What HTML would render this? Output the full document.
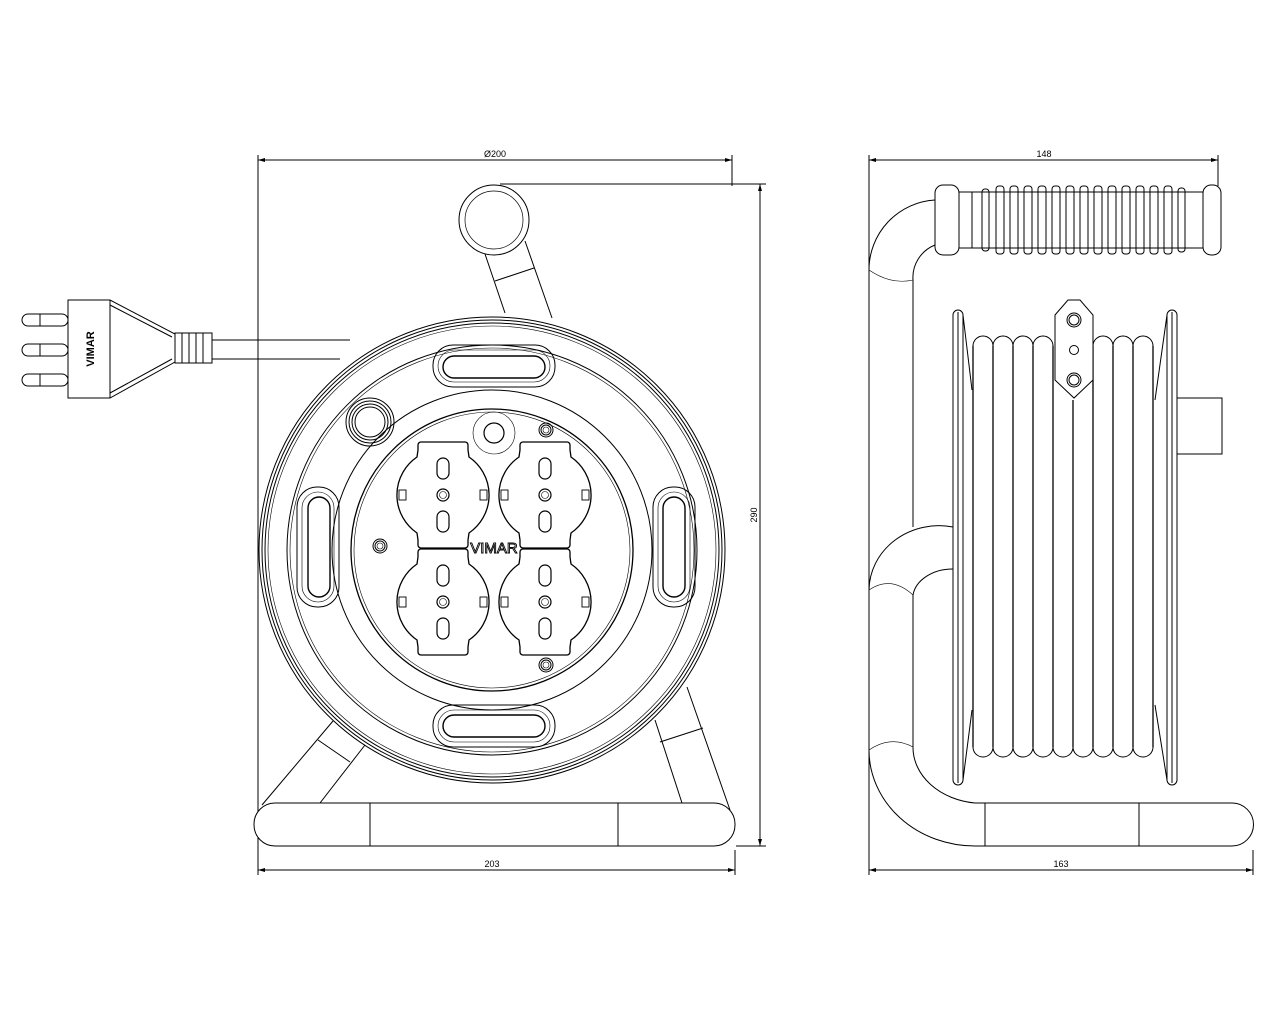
<!DOCTYPE html>
<html><head><meta charset="utf-8"><style>
html,body{margin:0;padding:0;background:#fff}
svg{display:block}
text{font-family:"Liberation Sans",sans-serif;font-size:9px;fill:#000}
</style></head><body>
<svg width="1280" height="1024" viewBox="0 0 1280 1024" xmlns="http://www.w3.org/2000/svg">
<defs>
<g id="sock">
 <path d="M-22,-53 H22 a3,3 0 0 1 3,3 V-45 L26,-38 A46,46 0 0 1 26,38 L25,45 V50 a3,3 0 0 1 -3,3 H-22 a3,3 0 0 1 -3,-3 V45 L-26,38 A46,46 0 0 1 -26,-38 L-25,-45 V-50 a3,3 0 0 1 3,-3Z" fill="#fff" stroke="#000" stroke-width="1.3"/>
 <rect x="-6" y="-37" width="12" height="21" rx="6" fill="none" stroke="#000" stroke-width="1.2"/>
 <rect x="-6" y="16" width="12" height="21" rx="6" fill="none" stroke="#000" stroke-width="1.2"/>
 <circle r="6" fill="none" stroke="#000" stroke-width="1.2"/><circle r="3.5" fill="none" stroke="#000" stroke-width=".6"/>
 <rect x="-44" y="-5" width="7" height="10" fill="none" stroke="#000" stroke-width=".9"/>
 <rect x="37" y="-5" width="7" height="10" fill="none" stroke="#000" stroke-width=".9"/>
</g>
<g id="screw"><circle r="7" fill="none" stroke="#000"/><circle r="5" fill="none" stroke="#000"/><circle r="3" fill="none" stroke="#000" stroke-width=".6"/></g>
</defs>
<g fill="none" stroke="#000" stroke-width="1">
<line x1="258" y1="155" x2="258" y2="875"/>
<line x1="732" y1="155" x2="732" y2="186"/>
<line x1="258" y1="160" x2="732" y2="160"/>
<line x1="500" y1="184" x2="766" y2="184"/>
<line x1="736" y1="846" x2="766" y2="846"/>
<line x1="760" y1="184" x2="760" y2="846"/>
<line x1="735" y1="850" x2="735" y2="875"/>
<line x1="258" y1="870" x2="735" y2="870"/>
<path d="M68,300 L110,300 L175,334 L175,362 L110,398 L68,398 Z"/>
<line x1="110" y1="300" x2="110" y2="398"/>
<path d="M110,305 L172,337 M110,393 L172,359"/>
<rect x="22" y="314" width="46" height="12" rx="6"/>
<rect x="22" y="344" width="46" height="12" rx="6"/>
<rect x="22" y="374" width="46" height="12" rx="6"/>
<line x1="40" y1="314" x2="40" y2="326"/><line x1="40" y1="344" x2="40" y2="356"/><line x1="40" y1="374" x2="40" y2="386"/>
<rect x="175" y="333" width="37" height="30"/>
<path d="M182,333v30M189,333v30M196,333v30M203,333v30"/>
<line x1="212" y1="340" x2="350" y2="340"/>
<line x1="212" y1="359" x2="340" y2="359"/>
<circle cx="494" cy="220" r="35"/>
<circle cx="494" cy="220" r="29" stroke-width=".7"/>
<path d="M485,254 L505,313 M525,241 L552,318 M495,281 L534,268"/>
<path d="M262,805 L333,721 M320,803 L365,745 M318,740 L350,762"/>
<path d="M687,687 L730,810 M655,720 L682,803 M660,742 L703,728"/>
<rect x="254" y="803" width="481" height="43" rx="21" fill="#fff"/>
<line x1="370" y1="803" x2="370" y2="846"/><line x1="618" y1="803" x2="618" y2="846"/>
<circle cx="492" cy="550" r="233" fill="#fff"/>
<circle cx="492" cy="550" r="230"/>
<circle cx="492" cy="550" r="227"/>
<circle cx="492" cy="550" r="224" stroke-width=".6"/>
<circle cx="492" cy="550" r="205"/>
<circle cx="492" cy="550" r="202" stroke-width=".6"/>
<circle cx="492" cy="550" r="160"/>
<circle cx="492" cy="550" r="141" stroke-width="1.3"/>
<circle cx="492" cy="550" r="138" stroke-width=".6"/>
<rect x="433" y="345" width="122" height="42" rx="20"/>
<rect x="438" y="350" width="112" height="32" rx="16" stroke-width=".6"/>
<rect x="443" y="356" width="102" height="22" rx="11" stroke-width="1.4"/>
<rect x="433" y="705" width="122" height="42" rx="20"/>
<rect x="438" y="710" width="112" height="32" rx="16" stroke-width=".6"/>
<rect x="443" y="715" width="102" height="22" rx="11" stroke-width="1.4"/>
<rect x="297" y="487" width="42" height="120" rx="20"/>
<rect x="302" y="492" width="32" height="110" rx="16" stroke-width=".6"/>
<rect x="308" y="497" width="22" height="100" rx="11" stroke-width="1.4"/>
<rect x="653" y="487" width="42" height="120" rx="20"/>
<rect x="658" y="492" width="32" height="110" rx="16" stroke-width=".6"/>
<rect x="663" y="497" width="22" height="100" rx="11" stroke-width="1.4"/>
<circle cx="370" cy="422" r="24"/><circle cx="370" cy="422" r="21"/><circle cx="370" cy="422" r="18"/><circle cx="370" cy="422" r="15"/>
<circle cx="494" cy="433" r="21" stroke-width=".6"/><circle cx="494" cy="433" r="10" stroke-width="1.2"/>
<use href="#sock" x="443" y="495"/>
<use href="#sock" x="545" y="495"/>
<use href="#sock" x="443" y="602"/>
<use href="#sock" x="545" y="602"/>
<use href="#screw" x="546" y="430"/>
<use href="#screw" x="380" y="546"/>
<use href="#screw" x="546" y="665"/>
<line x1="869" y1="155" x2="869" y2="875"/>
<line x1="1218" y1="155" x2="1218" y2="186"/>
<line x1="869" y1="160" x2="1218" y2="160"/>
<line x1="1253" y1="850" x2="1253" y2="875"/>
<line x1="869" y1="870" x2="1253" y2="870"/>
<path d="M869,270 A70,70 0 0 1 935,200"/>
<path d="M913,280 A35,35 0 0 1 935,245"/>
<line x1="913" y1="280" x2="913" y2="527"/>
<path d="M869,590 A70,65 0 0 1 953,527"/>
<path d="M913,595 A40,30 0 0 1 953,569"/>
<line x1="913" y1="595" x2="913" y2="747"/>
<path d="M869,750 A106,96 0 0 0 975,846"/>
<path d="M913,747 A70,56 0 0 0 975,803"/>
<path d="M869,590 Q891,575 913,595 M869,750 Q891,735 913,747 M869,270 Q891,285 913,280" stroke-width=".6"/>
<path d="M975,803 H1232 A21,21 0 0 1 1232,846 H975"/>
<line x1="985" y1="803" x2="985" y2="846"/><line x1="1139" y1="803" x2="1139" y2="846"/>
<rect x="935" y="185" width="24" height="70" rx="8"/>
<rect x="1203" y="185" width="18" height="70" rx="8"/>
<path d="M959,192 H972 V248 H959 M972,192 H1198 M972,248 H1198 M1198,192 H1203 M1198,248 H1203"/>
<rect x="982" y="189" width="7" height="62" rx="3"/><rect x="996" y="186" width="8" height="68" rx="3"/>
<rect x="1010" y="186" width="8" height="68" rx="3"/><rect x="1024" y="186" width="8" height="68" rx="3"/>
<rect x="1038" y="186" width="8" height="68" rx="3"/><rect x="1052" y="186" width="8" height="68" rx="3"/>
<rect x="1066" y="186" width="8" height="68" rx="3"/><rect x="1080" y="186" width="8" height="68" rx="3"/>
<rect x="1094" y="186" width="8" height="68" rx="3"/><rect x="1108" y="186" width="8" height="68" rx="3"/>
<rect x="1122" y="186" width="8" height="68" rx="3"/><rect x="1136" y="186" width="8" height="68" rx="3"/>
<rect x="1150" y="186" width="8" height="68" rx="3"/><rect x="1164" y="186" width="8" height="68" rx="3"/>
<rect x="1178" y="188" width="7" height="64" rx="3"/>
<rect x="953" y="310" width="10" height="475" rx="5"/>
<line x1="958" y1="312" x2="958" y2="783"/>
<rect x="1167" y="310" width="10" height="475" rx="5"/>
<line x1="1172" y1="312" x2="1172" y2="783"/>
<path d="M963,315 L972,390 M963,780 L972,710 M1167,315 L1155,400 M1167,780 L1155,705"/>
<rect x="1177" y="398" width="45" height="56"/>
<path d="M973,346 a10,10 0 0 1 20,0 a10,10 0 0 1 20,0 a10,10 0 0 1 20,0 a10,10 0 0 1 20,0 M1093,346 a10,10 0 0 1 20,0 a10,10 0 0 1 20,0 a10,10 0 0 1 20,0"/>
<path d="M973,747 a10,10 0 0 0 20,0 a10,10 0 0 0 20,0 a10,10 0 0 0 20,0 a10,10 0 0 0 20,0 a10,10 0 0 0 20,0 a10,10 0 0 0 20,0 a10,10 0 0 0 20,0 a10,10 0 0 0 20,0 a10,10 0 0 0 20,0"/>
<path d="M973,346V747 M993,346V747 M1013,346V747 M1033,346V747 M1053,346V747 M1073,400V747 M1093,346V747 M1113,346V747 M1133,346V747 M1153,346V747" stroke-width="1.3"/>
<path d="M1055,315 L1068,300 L1080,300 L1093,315 V380 L1074,398 L1055,380 Z" fill="#fff"/>
<circle cx="1074" cy="320" r="7"/><circle cx="1074" cy="320" r="5"/>
<circle cx="1074" cy="350" r="4.5"/>
<circle cx="1074" cy="380" r="7"/><circle cx="1074" cy="380" r="5"/>
</g>
<g fill="#000">
<path d="M258,160 l7,-2 v4z M732,160 l-7,-2 v4z M258,870 l7,-2 v4z M735,870 l-7,-2 v4z M760,184 l-2,7 h4z M760,846 l-2,-7 h4z"/>
<path d="M869,160 l7,-2 v4z M1218,160 l-7,-2 v4z M869,870 l7,-2 v4z M1253,870 l-7,-2 v4z"/>
</g>
<text x="495" y="157" text-anchor="middle">Ø200</text>
<text x="492" y="867" text-anchor="middle">203</text>
<text x="1044" y="157" text-anchor="middle">148</text>
<text x="1061" y="867" text-anchor="middle">163</text>
<text transform="translate(757,515) rotate(-90)" text-anchor="middle">290</text>
<text transform="translate(94,349) rotate(-90)" text-anchor="middle" style="font-size:11px;font-weight:bold">VIMAR</text>
<text x="494" y="553" text-anchor="middle" style="font-size:15px;fill:#fff;stroke:#000;stroke-width:.9">VIMAR</text>
</svg>
</body></html>
